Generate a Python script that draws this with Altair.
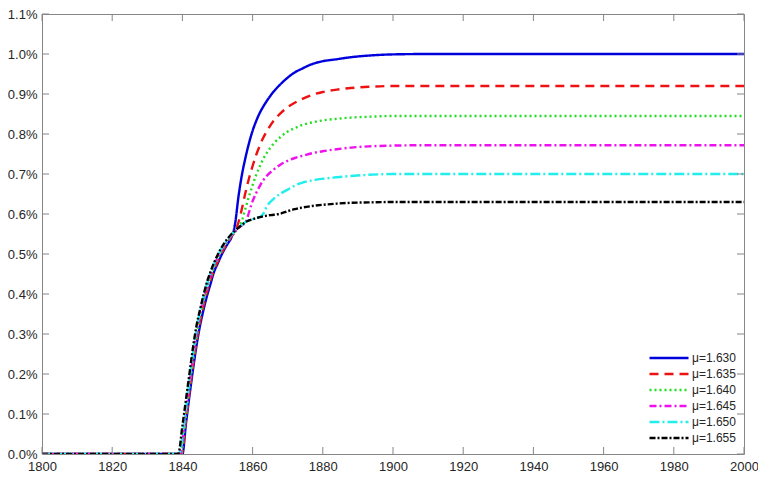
import altair as alt
import pandas as pd

labels = ["μ=1.630", "μ=1.635", "μ=1.640", "μ=1.645", "μ=1.650", "μ=1.655"]
colors = ["#0000dd", "#ee1111", "#22dd22", "#ee11ee", "#22eeee", "#000000"]
dashes = [[1, 0], [9, 6], [2, 3], [7, 3, 2, 3], [10, 3, 2, 3], [6, 2, 2, 2]]

blue_years = [1800, 1840, 1841, 1842, 1843, 1844, 1845, 1846, 1847, 1848, 1849, 1850, 1851, 1852, 1853, 1854,
              1855, 1856, 1857, 1858, 1859, 1860, 1861, 1862, 1863, 1864, 1866, 1868, 1870, 1872, 1874, 1877,
              1880, 1884, 1888, 1893, 1900, 1910, 1950, 2000]
blue_vals = [0, 0, 0.075, 0.145, 0.21, 0.27, 0.32, 0.36, 0.395, 0.425, 0.455, 0.475, 0.495, 0.512, 0.527, 0.542,
             0.575, 0.645, 0.70, 0.742, 0.778, 0.808, 0.832, 0.852, 0.868, 0.882, 0.906, 0.925, 0.941, 0.954, 0.963, 0.975,
             0.982, 0.987, 0.992, 0.996, 0.999, 1.0, 1.0, 1.0]

red_years = [1800, 1839.8, 1841, 1842, 1843, 1844, 1845, 1846, 1847, 1848, 1849, 1850, 1851, 1852, 1853, 1854,
             1855, 1856, 1857, 1858, 1859, 1860, 1861, 1862, 1863, 1864, 1866, 1868, 1870, 1872, 1874, 1877,
             1880, 1884, 1888, 1893, 1900, 1910, 1950, 2000]
red_vals = [0, 0, 0.085, 0.155, 0.22, 0.28, 0.33, 0.37, 0.405, 0.435, 0.46, 0.48, 0.5, 0.516, 0.53, 0.544,
            0.556, 0.58, 0.615, 0.655, 0.69, 0.72, 0.747, 0.77, 0.79, 0.806, 0.833, 0.852, 0.867, 0.878, 0.887, 0.898,
            0.905, 0.911, 0.915, 0.918, 0.92, 0.92, 0.92, 0.92]

green_years = [1800, 1839.5, 1841, 1842, 1843, 1844, 1845, 1846, 1847, 1848, 1849, 1850, 1851, 1852, 1853, 1854,
               1855, 1856, 1857, 1858, 1859, 1860, 1861, 1862, 1863, 1864, 1866, 1868, 1870, 1872, 1874, 1877,
               1880, 1884, 1888, 1893, 1900, 1910, 1950, 2000]
green_vals = [0, 0, 0.095, 0.165, 0.23, 0.29, 0.34, 0.38, 0.413, 0.442, 0.466, 0.486, 0.505, 0.52, 0.533, 0.546,
              0.556, 0.565, 0.585, 0.615, 0.645, 0.672, 0.697, 0.718, 0.737, 0.752, 0.776, 0.793, 0.806, 0.815, 0.822, 0.829,
              0.834, 0.838, 0.841, 0.843, 0.845, 0.845, 0.845, 0.845]

magenta_years = [1800, 1839.2, 1841, 1842, 1843, 1844, 1845, 1846, 1847, 1848, 1849, 1850, 1851, 1852, 1853, 1854,
                 1855, 1856, 1857, 1858, 1859, 1860, 1861, 1862, 1863, 1864, 1866, 1868, 1870, 1872, 1874, 1877,
                 1880, 1884, 1888, 1893, 1900, 1910, 1950, 2000]
magenta_vals = [0, 0, 0.105, 0.175, 0.24, 0.3, 0.35, 0.388, 0.42, 0.448, 0.472, 0.49, 0.508, 0.522, 0.535, 0.547,
                0.556, 0.565, 0.572, 0.578, 0.605, 0.632, 0.652, 0.669, 0.684, 0.695, 0.711, 0.724, 0.733, 0.74, 0.745, 0.752,
                0.757, 0.762, 0.766, 0.769, 0.771, 0.772, 0.772, 0.772]

cyan_years = [1800, 1839.0, 1841, 1842, 1843, 1844, 1845, 1846, 1847, 1848, 1849, 1850, 1851, 1852, 1853, 1854,
              1855, 1856, 1857, 1858, 1859, 1860, 1861, 1862, 1863, 1864, 1866, 1868, 1870, 1872, 1874, 1877,
              1880, 1884, 1888, 1893, 1900, 1910, 1950, 2000]
cyan_vals = [0, 0, 0.115, 0.185, 0.25, 0.31, 0.355, 0.393, 0.425, 0.452, 0.475, 0.494, 0.511, 0.525, 0.538, 0.549,
             0.557, 0.566, 0.573, 0.58, 0.584, 0.587, 0.59, 0.592, 0.6, 0.618, 0.638, 0.651, 0.661, 0.671, 0.678, 0.684,
             0.688, 0.692, 0.695, 0.698, 0.7, 0.7, 0.7, 0.7]

black_years = [1800, 1838.8, 1840, 1841, 1842, 1843, 1844, 1845, 1846, 1847, 1848, 1849, 1850, 1851, 1852, 1853, 1854,
               1855, 1856, 1857, 1858, 1859, 1860, 1861, 1862, 1863, 1864, 1866, 1868, 1870, 1872, 1874, 1877,
               1880, 1884, 1888, 1893, 1900, 1910, 1950, 2000]
black_vals = [0, 0, 0.07, 0.135, 0.2, 0.265, 0.32, 0.36, 0.397, 0.43, 0.455, 0.478, 0.497, 0.514, 0.528, 0.54, 0.55,
              0.558, 0.566, 0.573, 0.58, 0.584, 0.587, 0.59, 0.592, 0.594, 0.596, 0.598, 0.601, 0.607, 0.612, 0.616, 0.62,
              0.623, 0.626, 0.628, 0.629, 0.63, 0.63, 0.63, 0.63]

x_ticks = [1800, 1820, 1840, 1860, 1880, 1900, 1920, 1940, 1960, 1980, 2000]
y_ticks = [0.0, 0.1, 0.2, 0.3, 0.4, 0.5, 0.6, 0.7, 0.8, 0.9, 1.0, 1.1]

series = [(blue_years, blue_vals), (red_years, red_vals), (green_years, green_vals),
          (magenta_years, magenta_vals), (cyan_years, cyan_vals), (black_years, black_vals)]
rows = []
for lab, (ys, vs) in zip(labels, series):
    for i, (yr, v) in enumerate(zip(ys, vs)):
        rows.append({"series": lab, "year": yr, "value": v, "idx": i})
df = pd.DataFrame(rows)

W, H = 702, 440
TL = 7
FONT = "Liberation Sans"
FRAME = "#868686"

xscale = alt.Scale(domain=[1800, 2000], nice=False, zero=False)
yscale = alt.Scale(domain=[0, 1.1], nice=False)

xaxis = alt.Axis(values=x_ticks, title=None, grid=False, ticks=False, domain=False,
                 labelPadding=6, labelFontSize=13, labelFont=FONT, labelColor="#262626",
                 format="d", labelFlush=False, labelOverlap=False)
yaxis = alt.Axis(values=y_ticks, title=None, grid=False, ticks=False, domain=False,
                 labelPadding=5, labelFontSize=13, labelFont=FONT, labelColor="#262626",
                 labelExpr="format(datum.value, '.1f') + '%'", labelFlush=False,
                 labelOverlap=False)

lines = alt.Chart(df).mark_line(strokeWidth=2.4, interpolate="monotone", clip=True).encode(
    x=alt.X("year:Q", scale=xscale, axis=xaxis),
    y=alt.Y("value:Q", scale=yscale, axis=yaxis),
    color=alt.Color("series:N", scale=alt.Scale(domain=labels, range=colors),
                    legend=alt.Legend(title=None, orient="none", legendX=619, legendY=336,
                                      symbolType="M-3,0H3", symbolSize=169, symbolStrokeWidth=2.4,
                                      labelFontSize=12, labelFont=FONT, labelColor="#262626",
                                      rowPadding=2, labelOffset=15)),
    strokeDash=alt.StrokeDash("series:N", scale=alt.Scale(domain=labels, range=dashes), legend=None),
    order="idx:Q",
)

xt = pd.DataFrame({"t": x_ticks})
yt = pd.DataFrame({"t": y_ticks})
bottom_ticks = alt.Chart(xt).mark_rule(color=FRAME, strokeWidth=1).encode(
    x=alt.X("t:Q", scale=xscale, axis=xaxis), y=alt.value(H), y2=alt.value(H - TL))
top_ticks = alt.Chart(xt).mark_rule(color=FRAME, strokeWidth=1).encode(
    x=alt.X("t:Q", scale=xscale, axis=xaxis), y=alt.value(0), y2=alt.value(TL))
left_ticks = alt.Chart(yt).mark_rule(color=FRAME, strokeWidth=1).encode(
    y=alt.Y("t:Q", scale=yscale, axis=yaxis), x=alt.value(0), x2=alt.value(TL))
right_ticks = alt.Chart(yt).mark_rule(color=FRAME, strokeWidth=1).encode(
    y=alt.Y("t:Q", scale=yscale, axis=yaxis), x=alt.value(W), x2=alt.value(W - TL))

chart = alt.layer(lines, bottom_ticks, top_ticks, left_ticks, right_ticks).properties(
    width=W, height=H, autosize=alt.AutoSizeParams(type="none"),
    padding={"left": 34, "top": 6, "right": 14, "bottom": 23},
    background="white",
).configure_view(stroke=FRAME, strokeWidth=1)

chart.save("out.html", embed_options={"renderer": "svg", "actions": False})
